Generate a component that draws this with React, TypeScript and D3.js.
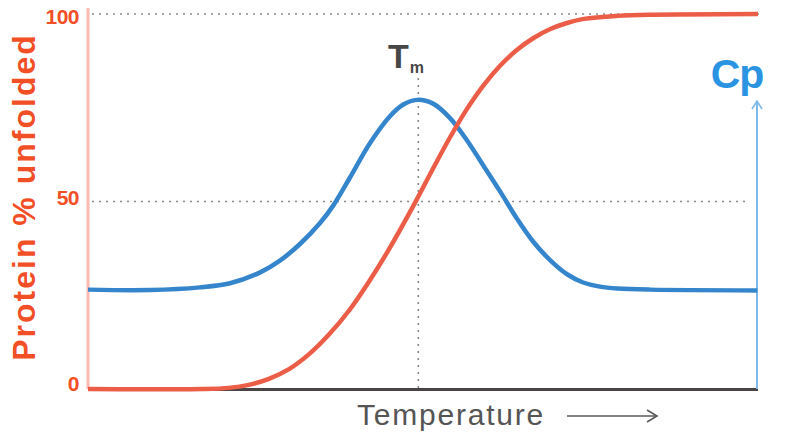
import { useEffect, useRef } from 'react';
import * as d3 from 'd3';

// temperature in arbitrary units (0..100), values in % unfolded
const unfoldTemp = [0, 17, 21, 24, 27, 30, 33, 36, 39, 42, 45, 49, 51.5, 54, 56.5, 59, 61.5, 64, 66.5, 69, 71.5, 74, 79, 84, 100];
const unfoldPct = [0, 0, 0.3, 1.1, 2.7, 5.3, 9.3, 14.6, 21, 28.8, 37.5, 50.3, 58.8, 67, 74.5, 80.9, 86.2, 90.4, 93.6, 96, 97.6, 98.7, 99.5, 99.8, 100];

// heat capacity trace, drawn on the same vertical scale
const cpTemp = [0, 9.3, 16.7, 21.2, 25.7, 28.7, 31.6, 34.6, 36.6, 39.1, 42.1, 45.1, 47, 49.1, 51.5, 54, 56.6, 59, 61.5, 64, 66.4, 69, 71.5, 73.9, 76.4, 79, 83.9, 99.9];
const cpVal = [26.5, 26.4, 27.1, 28.2, 31.1, 34.3, 38.6, 44.2, 48.9, 56.4, 65.6, 72.8, 75.8, 77.1, 76.1, 72.3, 66.2, 59.6, 52.7, 45.5, 39.4, 34.3, 30.6, 28.4, 27.3, 26.8, 26.5, 26.3];

const yTicks = [0, 50, 100];
const gridLines = [50, 100];
const tmTemp = 49.3;

const W = 791;
const H = 432;

export default function App() {
  const svgRef = useRef<SVGSVGElement>(null);

  useEffect(() => {
    if (!svgRef.current) return;
    const svg = d3.select(svgRef.current);
    svg.selectAll('*').remove();

    const x = d3.scaleLinear([0, 100], [88, 758]);
    const y = d3.scaleLinear([0, 100], [389, 14]);
    const font = 'Liberation Sans, Arial, Helvetica, sans-serif';

    // dotted guides
    svg.selectAll('.grid').data(gridLines).join('line')
      .attr('x1', 92).attr('x2', (d: number) => d === 100 ? 760 : 745)
      .attr('y1', (d: number) => y(d)).attr('y2', (d: number) => y(d))
      .attr('stroke', '#8a8a8a').attr('stroke-width', 1.6).attr('stroke-dasharray', '2,5');

    svg.append('line')
      .attr('x1', x(tmTemp)).attr('x2', x(tmTemp)).attr('y1', 78).attr('y2', y(0))
      .attr('stroke', '#8a8a8a').attr('stroke-width', 1.6).attr('stroke-dasharray', '2,5');

    // axes
    svg.append('line').attr('x1', x(0)).attr('x2', x(0)).attr('y1', 8).attr('y2', y(0))
      .attr('stroke', '#fbb9b2').attr('stroke-width', 3);
    svg.append('line').attr('x1', x(0)).attr('x2', 758).attr('y1', y(0) + 0.5).attr('y2', y(0) + 0.5)
      .attr('stroke', '#4a4444').attr('stroke-width', 3);

    // Cp axis with arrow
    svg.append('line').attr('x1', 757).attr('x2', 757).attr('y1', y(0)).attr('y2', 101)
      .attr('stroke', '#7fbbea').attr('stroke-width', 2);
    svg.append('path').attr('d', 'M752,109 L757,101 L762,109')
      .attr('fill', 'none').attr('stroke', '#7fbbea').attr('stroke-width', 1.6);
    svg.append('text').attr('x', 737).attr('y', 88).attr('text-anchor', 'middle')
      .attr('font-family', font).attr('font-weight', 700).attr('font-size', 41)
      .attr('letter-spacing', -1).attr('fill', '#2b94e2').text('Cp');

    // curves
    const line = d3.line<[number, number]>()
      .x(d => x(d[0])).y(d => y(d[1])).curve(d3.curveCatmullRom.alpha(0.5));

    const cpPts = cpTemp.map((t, i) => [t, cpVal[i]] as [number, number]);
    const unfoldPts = unfoldTemp.map((t, i) => [t, unfoldPct[i]] as [number, number]);

    svg.append('path').datum(cpPts).attr('d', line)
      .attr('fill', 'none').attr('stroke', '#3585cd').attr('stroke-width', 4.5);
    svg.append('path').datum(unfoldPts).attr('d', line)
      .attr('fill', 'none').attr('stroke', '#ec5d48').attr('stroke-width', 4.5);

    // tick labels
    svg.selectAll('.tick-label').data(yTicks).join('text')
      .attr('x', 79).attr('y', (d: number) => y(d) + (d === 100 ? 3 : d === 0 ? -5 : -4))
      .attr('dy', '0.35em').attr('text-anchor', 'end')
      .attr('font-family', font).attr('font-weight', 700).attr('font-size', 21)
      .attr('letter-spacing', -0.5).attr('fill', '#f34f27')
      .text((d: number) => String(d));

    // y label
    svg.append('text').attr('transform', 'translate(35,197) rotate(-90)')
      .attr('text-anchor', 'middle')
      .attr('font-family', font).attr('font-weight', 700).attr('font-size', 32)
      .attr('letter-spacing', 2).attr('fill', '#f34f27').text('Protein % unfolded');

    // Tm label
    const tm = svg.append('text').attr('x', 388).attr('y', 68)
      .attr('font-family', font).attr('font-weight', 700).attr('fill', '#474747');
    tm.append('tspan').attr('font-size', 34).text('T');
    tm.append('tspan').attr('font-size', 16).attr('dx', 1).attr('dy', 5).text('m');

    // x label with arrow
    svg.append('text').attr('x', 451).attr('y', 425).attr('text-anchor', 'middle')
      .attr('font-family', font).attr('font-size', 30).attr('letter-spacing', 1.8)
      .attr('fill', '#555555').text('Temperature');
    svg.append('line').attr('x1', 567).attr('x2', 657).attr('y1', 416).attr('y2', 416)
      .attr('stroke', '#5a5a5a').attr('stroke-width', 1.6);
    svg.append('path').attr('d', 'M647,410 L657,416 L647,422')
      .attr('fill', 'none').attr('stroke', '#5a5a5a').attr('stroke-width', 1.6);
  }, []);

  return (
    <svg ref={svgRef} width={W} height={H}
      style={{ position: 'absolute', left: 0, top: 0, background: '#fff' }} />
  );
}
